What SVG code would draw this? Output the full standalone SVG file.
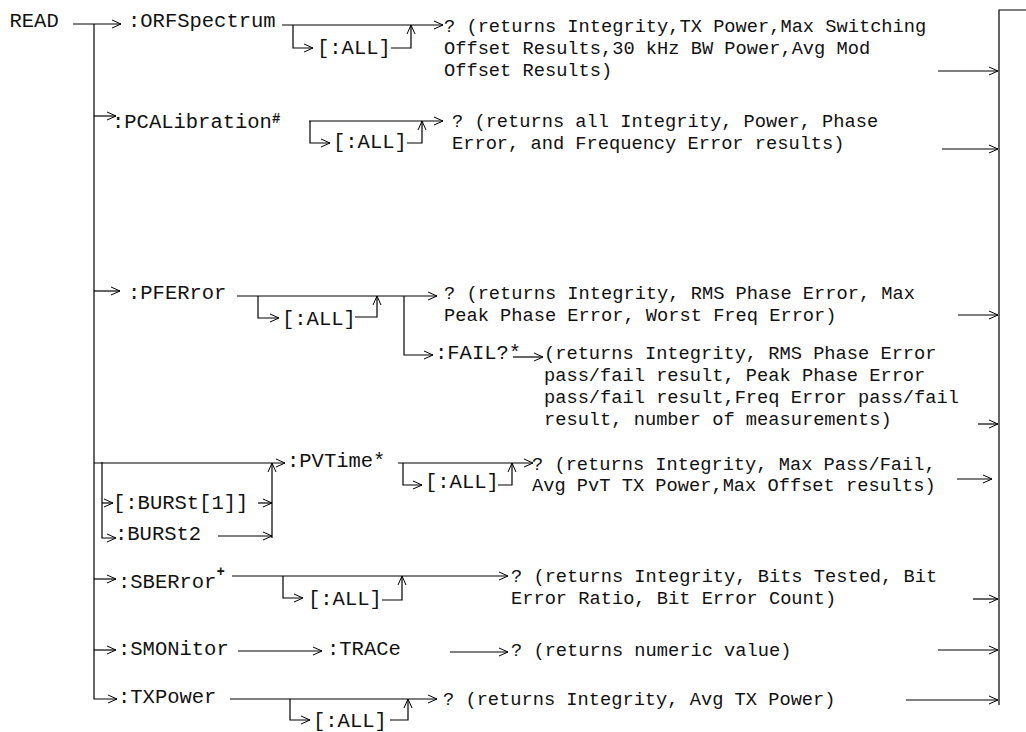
<svg xmlns="http://www.w3.org/2000/svg" width="1026" height="732" viewBox="0 0 1026 732">
<style>
text{font-family:"Courier New","Liberation Mono",monospace;fill:#111}
.c{font-size:20.5px}
.d{font-size:18.7px}
.s{font-size:14px;font-weight:bold}
.ln{stroke:#000;stroke-width:1.2;fill:none}
.a{marker-end:url(#ah)}
</style>
<defs>
<marker id="ah" markerUnits="userSpaceOnUse" markerWidth="12" markerHeight="12" refX="9" refY="4" orient="auto" overflow="visible">
<path d="M0,0 L9,4 L0,8" fill="none" stroke="#000" stroke-width="1"/>
</marker>
</defs>
<rect width="1026" height="732" fill="#fff"/>
<g id="connectors">
<path class="ln a" d="M73,24 H121"/>
<path class="ln a" d="M94,24 V699 H117"/>
<path class="ln a" d="M282,25 H443"/>
<path class="ln a" d="M293,25 V48 H313"/>
<path class="ln a" d="M391,48 H411 V25"/>
<path class="ln a" d="M938,71 H998"/>
<path class="ln a" d="M94,116 H116"/>
<path class="ln a" d="M309,121 H443"/>
<path class="ln a" d="M310,121 V143 H330"/>
<path class="ln a" d="M407,143 H422 V121"/>
<path class="ln a" d="M942,149 H998"/>
<path class="ln a" d="M94,291 H120"/>
<path class="ln a" d="M237,296 H437"/>
<path class="ln a" d="M258,296 V318 H279"/>
<path class="ln a" d="M355,317 H377 V296"/>
<path class="ln a" d="M404,296 V355 H433"/>
<path class="ln a" d="M513,357 H543"/>
<path class="ln a" d="M958,315 H998"/>
<path class="ln a" d="M978,424 H998"/>
<path class="ln a" d="M94,463 H285"/>
<path class="ln a" d="M102,462 V538 H116"/>
<path class="ln a" d="M102,503 H113"/>
<path class="ln a" d="M258,503 H272"/>
<path class="ln a" d="M218,536 H272"/>
<path class="ln a" d="M272,538 V463"/>
<path class="ln a" d="M398,463 H533"/>
<path class="ln a" d="M403,463 V485 H422"/>
<path class="ln a" d="M498,485 H512 V463"/>
<path class="ln a" d="M957,479 H992"/>
<path class="ln a" d="M94,579 H116"/>
<path class="ln a" d="M232,576 H508"/>
<path class="ln a" d="M283,576 V598 H303"/>
<path class="ln a" d="M382,600 H402 V576"/>
<path class="ln a" d="M973,599 H998"/>
<path class="ln a" d="M94,650 H116"/>
<path class="ln a" d="M238,651 H322"/>
<path class="ln a" d="M450,652 H508"/>
<path class="ln a" d="M938,650 H998"/>
<path class="ln a" d="M230,699 H437"/>
<path class="ln a" d="M290,699 V720 H310"/>
<path class="ln a" d="M390,720 H408 V699"/>
<path class="ln a" d="M906,700 H998"/>
<path class="ln" d="M1026,10 H999 V705"/>
</g>
<g id="read"><text class="c" x="9.5" y="26.5">READ</text></g>
<g id="orfspectrum"><text class="c" x="128" y="27">:ORFSpectrum</text></g>
<g id="orf-all"><text class="c" x="317" y="54">[:ALL]</text></g>
<g id="orf-result"><text class="d" x="444" y="31.5">? (returns Integrity,TX Power,Max Switching</text><text class="d" x="444" y="53.5">Offset Results,30 kHz BW Power,Avg Mod</text><text class="d" x="444" y="75.5">Offset Results)</text></g>
<g id="pcalibration"><text class="c" x="112" y="128">:PCALibration<tspan class="s" dy="-5">#</tspan></text></g>
<g id="pcal-all"><text class="c" x="333" y="148">[:ALL]</text></g>
<g id="pcal-result"><text class="d" x="452" y="126.5">? (returns all Integrity, Power, Phase</text><text class="d" x="452" y="148.5">Error, and Frequency Error results)</text></g>
<g id="pferror"><text class="c" x="128" y="299">:PFERror</text></g>
<g id="pfer-all"><text class="c" x="282" y="325">[:ALL]</text></g>
<g id="pfer-result"><text class="d" x="444" y="299">? (returns Integrity, RMS Phase Error, Max</text><text class="d" x="444" y="321">Peak Phase Error, Worst Freq Error)</text></g>
<g id="fail"><text class="c" x="435" y="359">:FAIL?*</text></g>
<g id="fail-result"><text class="d" x="544" y="359">(returns Integrity, RMS Phase Error</text><text class="d" x="544" y="381">pass/fail result, Peak Phase Error</text><text class="d" x="544" y="403">pass/fail result,Freq Error pass/fail</text><text class="d" x="544" y="425">result, number of measurements)</text></g>
<g id="burst1"><text class="c" x="113" y="509">[:BURSt[1]]</text></g>
<g id="burst2"><text class="c" x="115" y="539.5">:BURSt2</text></g>
<g id="pvtime"><text class="c" x="287" y="467">:PVTime*</text></g>
<g id="pvt-all"><text class="c" x="425" y="487.5">[:ALL]</text></g>
<g id="pvt-result"><text class="d" x="532" y="469.5">? (returns Integrity, Max Pass/Fail,</text><text class="d" x="532" y="491">Avg PvT TX Power,Max Offset results)</text></g>
<g id="sberror"><text class="c" x="118" y="588">:SBERror<tspan class="s" dy="-12">+</tspan></text></g>
<g id="sber-all"><text class="c" x="308" y="605">[:ALL]</text></g>
<g id="sber-result"><text class="d" x="511" y="581.5">? (returns Integrity, Bits Tested, Bit</text><text class="d" x="511" y="603.5">Error Ratio, Bit Error Count)</text></g>
<g id="smonitor"><text class="c" x="118" y="655">:SMONitor</text></g>
<g id="trace"><text class="c" x="327" y="655">:TRACe</text></g>
<g id="trace-result"><text class="d" x="511" y="656">? (returns numeric value)</text></g>
<g id="txpower"><text class="c" x="118" y="703">:TXPower</text></g>
<g id="txp-all"><text class="c" x="313" y="726.5">[:ALL]</text></g>
<g id="txp-result"><text class="d" x="443" y="704.5">? (returns Integrity, Avg TX Power)</text></g>
</svg>
